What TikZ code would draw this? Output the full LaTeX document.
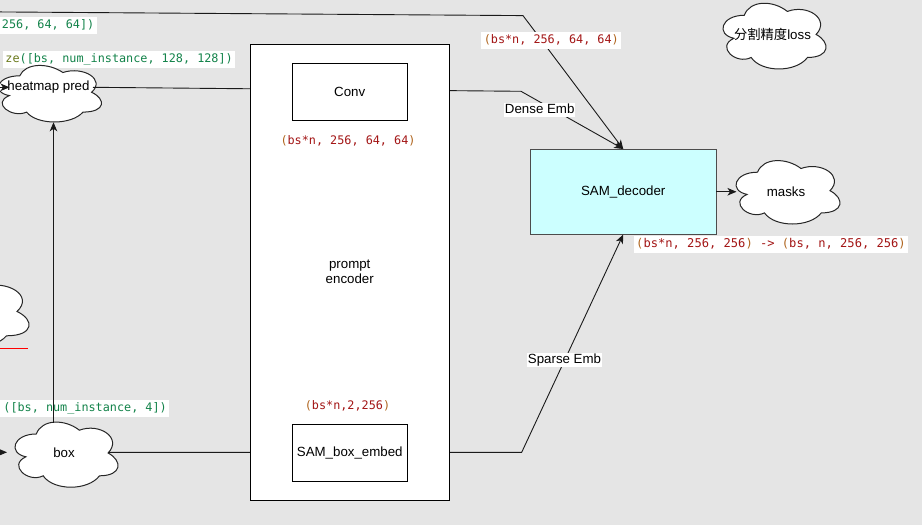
\documentclass[tikz,border=0pt]{standalone}
\usepackage{fontspec}
\setmainfont{Liberation Sans}
\newfontfamily\codefont{DejaVu Sans Mono}
\newfontfamily\cjkfont{Noto Sans CJK SC}
\usetikzlibrary{arrows.meta,calc}
\definecolor{bgc}{HTML}{E5E5E5}
\definecolor{cyanfill}{HTML}{CCFFFF}
\definecolor{codered}{HTML}{A31515}
\definecolor{codeparen}{HTML}{B0651E}
\definecolor{codegreen}{HTML}{13834A}
\definecolor{codeolive}{HTML}{6B7A1C}
\definecolor{edgec}{HTML}{1A1A1A}
\newcommand\rp[1]{\textcolor{codeparen}{#1}}
\newcommand\cloudpath[4]{%
  \filldraw[cloudst, shift={(#1,#2)}, x=#3pt, y=-#4pt]
    (0.25,0.25) .. controls (0.05,0.25) and (0,0.5) .. (0.16,0.55)
    .. controls (0,0.66) and (0.18,0.9) .. (0.31,0.8)
    .. controls (0.4,1) and (0.7,1) .. (0.8,0.8)
    .. controls (1,0.8) and (1,0.6) .. (0.875,0.5)
    .. controls (1,0.3) and (0.8,0.1) .. (0.625,0.2)
    .. controls (0.5,0.05) and (0.3,0.05) .. (0.25,0.25) -- cycle;}
\tikzset{
  conn/.style={draw=edgec, line width=0.9pt},
  arr/.style={conn, -{Stealth[length=9pt,width=7.5pt,inset=2.5pt]}},
  cloudst/.style={fill=white, draw=black!85, line width=1pt},
  labelfont/.style={font=\fontsize{13.3}{15}\selectfont},
  boxst/.style={draw=black, line width=0.9pt, fill=white, inner sep=0pt, outer sep=0pt, labelfont},
  codelabel/.style={font=\codefont\fontsize{11.8}{14}\selectfont, inner xsep=2.5pt, inner ysep=2.5pt, text height=9pt, text depth=3pt},
  codebg/.style={codelabel, fill=white},
  emblabel/.style={labelfont, fill=white, inner xsep=1pt, inner ysep=1pt, text height=9.5pt, text depth=2.5pt},
  plaintext/.style={labelfont, inner sep=0pt},
}
\begin{document}
\begin{tikzpicture}[x=1pt,y=-1pt]
\useasboundingbox (0,0) rectangle (922,525);
\fill[bgc] (0,0) rectangle (922,525);
\clip (0,0) rectangle (922,525);

% code labels at the left (cut off)
\node[codebg, anchor=east, text=codegreen] (g1) at (97,25.5) {~256, 64, 64])};
\node[codebg, anchor=east, text=codegreen] (g2) at (235.5,59.7) {\textcolor{codeolive}{ze}([bs, num\_instance, 128, 128])};
\node[codebg, anchor=east, text=codegreen] (g3) at (169.5,408.5) {~([bs, num\_instance, 4])};

% clouds
\cloudpath{-9}{59.3}{115}{66}
\cloudpath{7.5}{415}{115}{76}
\cloudpath{728.5}{153.7}{116}{74}
\cloudpath{715.5}{-3.9}{115}{76.7}
\cloudpath{-105.5}{271}{140}{81}

\node[plaintext] (hp) at (48.5,87) {heatmap pred};
\node[plaintext] (bx) at (64,452.3) {box};
\node[plaintext] (mk) at (786,191.7) {masks};
\node[plaintext] (loss) at (772.5,34.5) {{\cjkfont 分割精度}loss};

% red edge fragment
\coordinate (redA) at (-10,348.3);
\coordinate (redB) at (27.5,348.3);
\draw[red, line width=0.9pt] (redA) -- (redB);

% decoder
\node[boxst, fill=cyanfill, draw=black!70, minimum width=185.5pt, minimum height=85.5pt] (dec) at (623.25,191.75) {SAM\_decoder};

% connector points
\coordinate (topS) at (-5,11.9);
\coordinate (topB) at (523,15.6);
\coordinate (hpIn) at (-30,87.3);
\coordinate (hpW) at (9.5,87.3);
\coordinate (hpE) at (93,87.3);
\coordinate (hpS) at (53.5,122.3);
\coordinate (denseB) at (521,91.3);
\coordinate (bxIn) at (-30,452.3);
\coordinate (bxW) at (7,452.3);
\coordinate (bxE) at (108.3,452.3);
\coordinate (bxN) at (53.5,422.5);
\coordinate (sparseB) at (521.7,452.3);
\coordinate (mkW) at (736.5,191.75);

\draw[arr] (topS) -- (topB) -- (dec.north);
\draw[arr] (hpE) -- (denseB) -- (dec.north);
\draw[arr] (bxE) -- (sparseB) -- (dec.south);
\draw[arr] (bxN) -- (hpS);
\draw[arr] (hpIn) -- (hpW);
\draw[arr] (bxIn) -- (bxW);
\draw[arr] (dec.east) -- (mkW);

% prompt encoder
\node[boxst, minimum width=199.5pt, minimum height=456pt, align=center] (pe) at (349.75,272) {prompt\\encoder};
\node[boxst, minimum width=114.5pt, minimum height=56.5pt] (conv) at (349.75,91.75) {Conv};
\node[boxst, minimum width=114.5pt, minimum height=56.5pt] (sbe) at (349.75,452.75) {SAM\_box\_embed};

% labels
\node[emblabel] (dl) at (539.7,110) {Dense Emb};
\node[emblabel] (sl) at (564.5,360) {Sparse Emb};
\node[codelabel, text=codered] (c1) at (348,141.7) {\rp{(}bs*n, 256, 64, 64\rp{)}};
\node[codelabel, text=codered] (c2) at (347.5,406.7) {\rp{(}bs*n,2,256\rp{)}};
\node[codebg, text=codered] (c3) at (551.3,40.5) {\rp{(}bs*n, 256, 64, 64\rp{)}};
\node[codebg, text=codered, font=\codefont\fontsize{12.1}{14}\selectfont] (c4) at (771,244.7) {\rp{(}bs*n, 256, 256\rp{)} -> \rp{(}bs, n, 256, 256\rp{)}};
\end{tikzpicture}
\end{document}
